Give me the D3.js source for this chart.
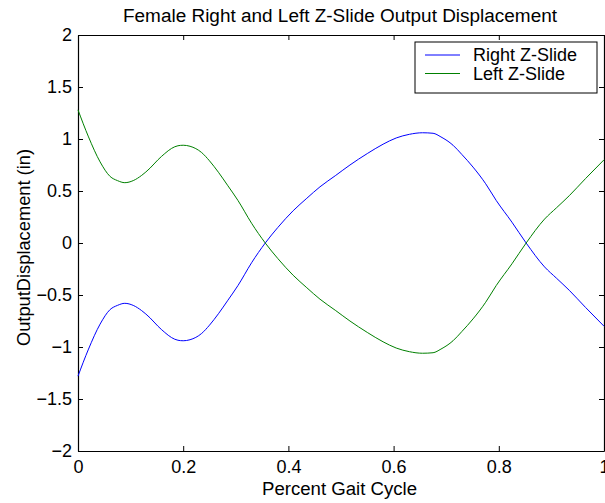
<!DOCTYPE html>
<html>
<head>
<meta charset="utf-8">
<script src="https://cdn.jsdelivr.net/npm/d3@7"></script>
<style>
  body { margin: 0; background: #fff; }
  text { font-family: "Liberation Sans", Arial, sans-serif; fill: #000; }
</style>
</head>
<body>
<div id="viz-container"></div>
<script>
// gait cycle positions
let gait = [0, 0.02, 0.042, 0.061, 0.075, 0.089, 0.105, 0.121, 0.137, 0.152, 0.165, 0.178, 0.19, 0.2, 0.213,
  0.235, 0.25, 0.267, 0.285, 0.304, 0.33, 0.356, 0.38, 0.409, 0.435, 0.46, 0.49, 0.517, 0.55, 0.58, 0.605,
  0.63, 0.655, 0.675, 0.69, 0.713, 0.73, 0.751, 0.775, 0.795, 0.825, 0.852, 0.887, 0.91, 0.934, 0.965, 1.0];

let rightSlide = [-1.28, -1.02, -0.78, -0.64, -0.6, -0.58, -0.6, -0.65, -0.72, -0.8, -0.86, -0.91, -0.935, -0.94, -0.93,
  -0.87, -0.79, -0.68, -0.55, -0.41, -0.19, 0, 0.15, 0.31, 0.43, 0.54, 0.65, 0.75, 0.86, 0.95, 1.01,
  1.045, 1.06, 1.055, 1.02, 0.94, 0.85, 0.73, 0.57, 0.41, 0.2, 0, -0.23, -0.34, -0.455, -0.62, -0.8];

let leftSlide = [1.28, 1.02, 0.78, 0.64, 0.6, 0.58, 0.6, 0.65, 0.72, 0.8, 0.86, 0.91, 0.935, 0.94, 0.93,
  0.87, 0.79, 0.68, 0.55, 0.41, 0.19, 0, -0.15, -0.31, -0.43, -0.54, -0.65, -0.75, -0.86, -0.95, -1.01,
  -1.045, -1.06, -1.055, -1.02, -0.94, -0.85, -0.73, -0.57, -0.41, -0.2, 0, 0.23, 0.34, 0.455, 0.62, 0.8];

let xTicks = [0, 0.2, 0.4, 0.6, 0.8, 1];
let yTicks = [-2, -1.5, -1, -0.5, 0, 0.5, 1, 1.5, 2];

let seriesNames = ["Right Z-Slide", "Left Z-Slide"];
let seriesColors = ["#0000ff", "#008000"];

let plotLeft = 78, plotRight = 604, plotTop = 35, plotBottom = 451;

let viz = d3.select("#viz-container")
  .append("svg")
    .attr("width", 605)
    .attr("height", 503);

let x = d3.scaleLinear().domain([0, 1]).range([plotLeft, plotRight]);
let y = d3.scaleLinear().domain([-2, 2]).range([plotBottom, plotTop]);

// box with inward ticks on all four sides
viz.append("g").attr("transform", "translate(0," + plotBottom + ")")
  .call(d3.axisBottom(x).tickValues(xTicks).tickSizeInner(-5).tickSizeOuter(0).tickPadding(9).tickFormat(d3.format("")))
  .call(g => g.selectAll("text").attr("font-size", 18));
viz.append("g").attr("transform", "translate(0," + plotTop + ")")
  .call(d3.axisTop(x).tickValues(xTicks).tickSizeInner(-5).tickSizeOuter(0).tickFormat(""));
viz.append("g").attr("transform", "translate(" + plotLeft + ",0)")
  .call(d3.axisLeft(y).tickValues(yTicks).tickSizeInner(-5).tickSizeOuter(0).tickPadding(6).tickFormat(d3.format("")))
  .call(g => g.selectAll("text").attr("font-size", 18));
viz.append("g").attr("transform", "translate(" + plotRight + ",0)")
  .call(d3.axisRight(y).tickValues(yTicks).tickSizeInner(-5).tickSizeOuter(0).tickFormat(""));

viz.selectAll(".domain").attr("stroke", "#000").attr("stroke-width", 1.2);
viz.selectAll(".tick line").attr("stroke", "#000");
viz.selectAll(".tick text").attr("font-family", "Liberation Sans, Arial, sans-serif").attr("fill", "#000");

let line = d3.line()
  .x((d, i) => x(gait[i]))
  .y(d => y(d))
  .curve(d3.curveMonotoneX);

viz.append("path").datum(rightSlide)
  .attr("d", line).attr("fill", "none")
  .attr("stroke", seriesColors[0]).attr("stroke-width", 1);
viz.append("path").datum(leftSlide)
  .attr("d", line).attr("fill", "none")
  .attr("stroke", seriesColors[1]).attr("stroke-width", 1);

// title and labels
viz.append("text")
  .text("Female Right and Left Z-Slide Output Displacement")
  .attr("x", 123).attr("y", 22)
  .attr("textLength", 434).attr("lengthAdjust", "spacingAndGlyphs")
  .attr("font-size", 18);
viz.append("text")
  .text("Percent Gait Cycle")
  .attr("x", 262).attr("y", 495)
  .attr("textLength", 155).attr("lengthAdjust", "spacingAndGlyphs")
  .attr("font-size", 18);
viz.append("text")
  .text("OutputDisplacement (in)")
  .attr("transform", "translate(30,346) rotate(-90)")
  .attr("textLength", 197).attr("lengthAdjust", "spacingAndGlyphs")
  .attr("font-size", 18);

// legend
let legend = viz.append("g");
legend.append("rect")
  .attr("x", 415).attr("y", 42).attr("width", 182).attr("height", 51)
  .attr("fill", "#fff").attr("stroke", "#000").attr("stroke-width", 1);
seriesNames.forEach(function(name, i) {
  let ly = 55 + i * 18.5;
  legend.append("line")
    .attr("x1", 425).attr("x2", 460).attr("y1", ly).attr("y2", ly)
    .attr("stroke", seriesColors[i]).attr("stroke-width", 1);
  legend.append("text")
    .text(name)
    .attr("x", 473).attr("y", ly + 6)
    .attr("font-size", 18);
});
</script>
</body>
</html>
